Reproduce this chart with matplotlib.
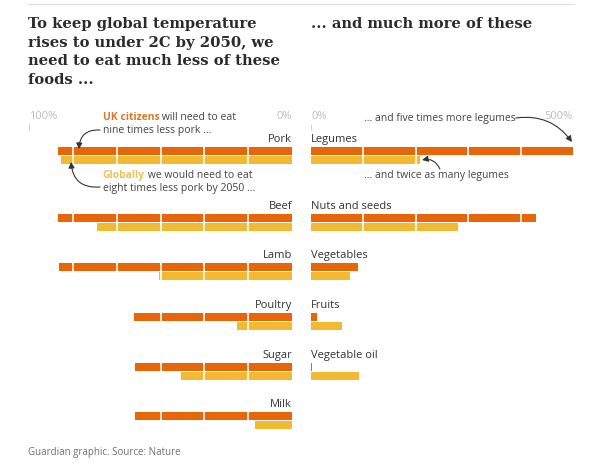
import matplotlib
matplotlib.use("Agg")
from matplotlib import pyplot as plt
from matplotlib import transforms
from matplotlib.lines import Line2D
import numpy as np

# data: % change in consumption needed by 2050
less_foods = ["Pork", "Beef", "Lamb", "Poultry", "Sugar", "Milk"]
less_uk = [89, 88.9, 88.6, 60.2, 59.7, 59.7]
less_global = [88, 74.3, 50.6, 21.0, 42.2, 14.1]

more_foods = ["Legumes", "Nuts and seeds", "Vegetables", "Fruits", "Vegetable oil"]
more_uk = [500, 429, 90, 11, 2]
more_global = [208, 280, 74, 60, 92]

ORANGE = "#e8650a"
YELLOW = "#f2b933"
UK_TXT = "#d9782a"
GL_TXT = "#e9c45a"
TXT = "#444444"
LABEL = "#333333"
TICK = "#bdbdbd"

W, H = 593, 464
plt.rcParams["font.family"] = ["Open Sans", "DejaVu Sans"]

def fx(x):
    return x / W

def fy(y):
    return 1 - y / H

fig = plt.figure(figsize=(W / 100, H / 100), dpi=100)
renderer = fig.canvas.get_renderer()

# row layout in pixel-like units (y grows downwards)
row_top = np.array([148, 215, 264, 314, 364, 413])

axL = fig.add_axes([fx(29), fy(440), 263 / W, 340 / H])
axL.set_xlim(100, 0)
axR = fig.add_axes([fx(311), fy(440), 262 / W, 340 / H])
axR.set_xlim(0, 500)
for ax in (axL, axR):
    ax.set_ylim(440, 100)
    ax.axis("off")

def draw_panel(ax, foods, uk, gl, divs, ha):
    tops = row_top[:len(foods)]
    ax.barh(tops + 4, uk, height=8, left=0, color=ORANGE, zorder=2)
    ax.barh(tops + 13, gl, height=8, left=0, color=YELLOW, zorder=2)
    for t in tops:
        ax.vlines(divs, t - 0.5, t + 17.5, color="white", lw=1.2, zorder=3)
    for t, name in zip(tops, foods):
        ax.text(0, t - 8, name, ha=ha, va="center", fontsize=8, color=LABEL)

draw_panel(axL, less_foods, less_uk, less_global, np.arange(1, 6) * 100 / 6, "right")
draw_panel(axR, more_foods, more_uk, more_global, [100, 200, 300, 400], "left")

# axis end labels
axL.text(100, 117, "100%", ha="left", va="center", fontsize=8, color=TICK)
axL.text(0, 117, "0%", ha="right", va="center", fontsize=8, color=TICK)
axR.text(0, 117, "0%", ha="left", va="center", fontsize=8, color=TICK)
axR.text(500, 117, "500%", ha="right", va="center", fontsize=8, color=TICK)
axL.vlines([100, 0], 125, 131, color="#d0d0d0", lw=0.8)
axR.vlines([0, 500], 125, 131, color="#d0d0d0", lw=0.8)

def rainbow(ax, x, y, parts):
    t = ax.transData
    for s, c, w in parts:
        txt = ax.text(x, y, s, transform=t, color=c, fontweight=w,
                      fontsize=7.5, va="center", ha="left")
        txt.draw(renderer)
        ex = txt.get_window_extent(renderer)
        t = transforms.offset_copy(txt.get_transform(), fig=fig, x=ex.width, units="dots")

rainbow(axL, 72, 118, [("UK citizens", UK_TXT, "bold"), (" will need to eat", TXT, "normal")])
axL.text(72, 131, "nine times less pork ...", fontsize=7.5, color=TXT, va="center")
rainbow(axL, 72, 176, [("Globally", GL_TXT, "bold"), (" we would need to eat", TXT, "normal")])
axL.text(72, 189, "eight times less pork by 2050 ...", fontsize=7.5, color=TXT, va="center")
axR.text(101, 118.5, "... and five times more legumes", fontsize=7.5, color=TXT, va="center")
axR.text(101, 176, "... and twice as many legumes", fontsize=7.5, color=TXT, va="center")

def arrow(ax, tip, start, rad):
    ax.annotate("", xy=tip, xytext=start, annotation_clip=False,
                arrowprops=dict(arrowstyle="-|>,head_length=0.35,head_width=0.18",
                                color="#333333", lw=0.8, shrinkA=0, shrinkB=0,
                                connectionstyle="arc3,rad=%s" % rad), zorder=5)

arrow(axL, (81, 150), (73, 131), 0.5)
arrow(axL, (84, 163), (73, 188), -0.5)
arrow(axR, (498, 143), (391, 119), -0.3)
arrow(axR, (212, 161), (246, 170), 0.4)

# header
fig.add_artist(Line2D([fx(28), fx(574)], [fy(5), fy(5)], color="#dcdcdc", lw=0.8))
title_kw = dict(ha="left", va="top", fontsize=10.6, fontweight="bold",
                family="DejaVu Serif", color="#2b2b2b")
fig.text(fx(28), fy(17), "To keep global temperature\nrises to under 2C by 2050, we\n"
         "need to eat much less of these\nfoods ...", linespacing=1.42, **title_kw)
fig.text(fx(311), fy(17), "... and much more of these", **title_kw)

fig.text(fx(28), fy(453), "Guardian graphic. Source: Nature", ha="left", va="center",
         fontsize=7, color="#707070")

fig.savefig("out.png", dpi=100, facecolor="white")
